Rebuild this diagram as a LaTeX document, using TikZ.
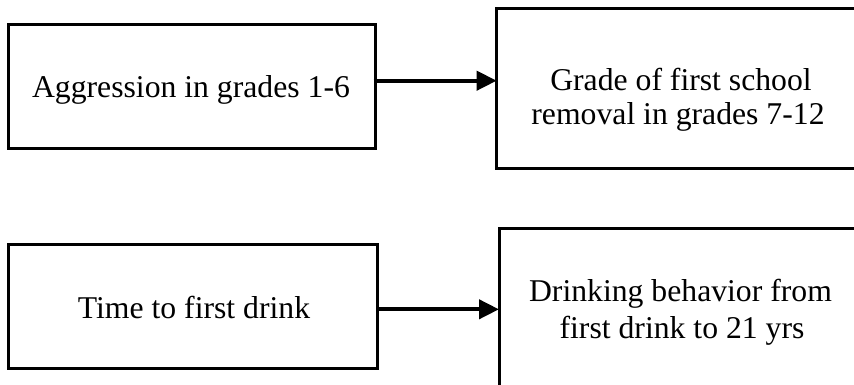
\documentclass[tikz,border=0pt]{standalone}
\usepackage{fontspec}
\setmainfont{Liberation Serif}
\usetikzlibrary{arrows.meta}

\tikzset{
  box/.style={draw=black, line width=3pt, inner sep=0pt, outer sep=0pt, fill=none},
  txt/.style={anchor=base, inner sep=0pt, font=\fontsize{31.7}{36}\selectfont},
  link/.style={line width=4pt, -{Triangle[length=20pt,width=19pt]}}
}

\begin{document}
\begin{tikzpicture}[x=1pt, y=-1pt]
  \useasboundingbox (0,0) rectangle (854,384);
  \clip (0,0) rectangle (854,384);
  \fill[white] (0,0) rectangle (854,384);

  % upper pair of boxes
  \node[box, minimum width=367pt, minimum height=124pt] (aggr) at (192,86.7) {};
  \node[box, minimum width=366pt, minimum height=160pt] (remov) at (679.7,88.7) {};
  \node[txt] (aggrtxt) at (191,97.3) {Aggression in grades 1-6};
  \node[txt] (removA) at (681,90) {Grade of first school};
  \node[txt] (removB) at (678,124) {removal in grades 7-12};

  % lower pair of boxes
  \node[box, minimum width=368.7pt, minimum height=124pt] (time) at (192.7,306.7) {};
  \node[box, minimum width=366pt, minimum height=160pt] (drink) at (682,308.7) {};
  \node[txt] (timetxt) at (194,318) {Time to first drink};
  \node[txt] (drinkA) at (680.5,301.3) {Drinking behavior from};
  \node[txt] (drinkB) at (682,338.7) {first drink to 21 yrs};

  % connectors
  \draw[link] ([yshift=6pt,xshift=-2pt]aggr.east) -- ([yshift=6pt]aggr.east -| remov.west);
  \draw[link] ([yshift=-2.6pt]time.east) -- ([yshift=-2.6pt]time.east -| drink.west);
\end{tikzpicture}
\end{document}
